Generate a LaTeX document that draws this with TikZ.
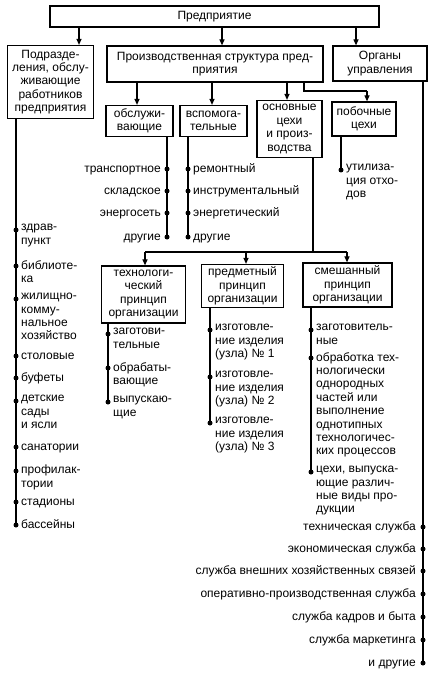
\documentclass[tikz,border=0pt]{standalone}
\usepackage{fontspec}
\setmainfont{Liberation Sans}
\usetikzlibrary{arrows.meta}
\newcommand\lblfont{\fontsize{12}{13.4}\selectfont}
\begin{document}
\begin{tikzpicture}[x=1pt,y=-1pt,
  box/.style={draw, line width=1.2pt, align=center, inner sep=0pt, font=\lblfont},
  ln/.style={line width=1.1pt},
  arr/.style={line width=1.1pt, -{Triangle[length=6pt,width=5pt]}},
  dot/.style={circle, fill, inner sep=0pt, minimum size=5pt},
  labl/.style={inner sep=0pt, align=left, font=\lblfont, anchor=north west, execute at begin node=\strut},
  labr/.style={inner sep=0pt, align=right, font=\lblfont, anchor=north east, execute at begin node=\strut}]
\useasboundingbox[fill=white] (0,0) rectangle (442,676);

% boxes
\node[box, minimum width=329pt, minimum height=21pt] (top) at (214.5,16.5) {Предприятие};
\node[box, minimum width=86pt, minimum height=73pt] (podr) at (50.5,82) {Подразде-\\ления, обслу-\\живающие\\работников\\предприятия};
\node[box, minimum width=216pt, minimum height=36pt] (proizv) at (215,64) {Производственная структура пред-\\приятия};
\node[box, minimum width=94pt, minimum height=35pt] (organy) at (380,63.5) {Органы\\управления};
\node[box, minimum width=67pt, minimum height=31pt] (obsl) at (139.5,121) {обслужи-\\вающие};
\node[box, minimum width=67pt, minimum height=31pt] (vspom) at (213.5,121) {вспомога-\\тельные};
\node[box, minimum width=65pt, minimum height=57pt] (osnov) at (289.5,129) {основные\\цехи\\и произ-\\водства};
\node[box, minimum width=64pt, minimum height=34pt] (poboch) at (364,119) {побочные\\цехи};
\node[box, minimum width=84pt, minimum height=57pt] (tehn) at (143.5,294.5) {технологи-\\ческий\\принцип\\организации};
\node[box, minimum width=82pt, minimum height=43pt] (predm) at (242.5,286) {предметный\\принцип\\организации};
\node[box, minimum width=89pt, minimum height=44pt] (smesh) at (347.5,285) {смешанный\\принцип\\организации};

% arrows from top
\draw[arr] (top.south -| 79,0) -- (podr.north -| 79,0);
\draw[arr] (top.south -| 222,0) -- (proizv.north -| 222,0);
\draw[arr] (top.south -| 356,0) -- (organy.north -| 356,0);
% arrows from proizv
\draw[arr] (proizv.south -| 137,0) -- (obsl.north -| 137,0);
\draw[arr] (proizv.south -| 212,0) -- (vspom.north -| 212,0);
\draw[arr] (proizv.south -| 287,0) -- (osnov.north -| 287,0);
\coordinate (pb1) at (304,91);
\coordinate (pb2) at (367,91);
\draw[ln] (proizv.south -| pb1) -- (pb1) -- (pb2);
\draw[arr] (pb2) -- (poboch.north -| pb2);
% osnov to principles
\coordinate (oj) at (313,252);
\coordinate (ol) at (145,252);
\coordinate (or) at (347,252);
\draw[ln] (osnov.south -| oj) -- (oj);
\draw[ln] (ol) -- (or);
\draw[arr] (ol) -- (tehn.north -| ol);
\draw[arr] (246,252) -- (predm.north -| 246,0);
\draw[arr] (or) -- (smesh.north -| or);

% podr list
\foreach \n/\y in {1/230,2/266,3/299,4/356,5/378,6/401,7/447,8/471,9/502,10/525}
  \node[dot] (p\n) at (16,\y) {};
\draw[ln] (podr.south -| p1) -- (p10.center);
\node[labl] at ([shift={(5,-6)}]p1.center) {здрав-\\пункт};
\node[labl] at ([shift={(5,-6)}]p2.center) {библиоте-\\ка};
\node[labl] at ([shift={(5,-6)}]p3.center) {жилищно-\\комму-\\нальное\\хозяйство};
\node[labl] at ([shift={(5,-6)}]p4.center) {столовые};
\node[labl] at ([shift={(5,-6)}]p5.center) {буфеты};
\node[labl] at ([shift={(5,-6)}]p6.center) {детские\\сады\\и ясли};
\node[labl] at ([shift={(5,-6)}]p7.center) {санатории};
\node[labl] at ([shift={(5,-6)}]p8.center) {профилак-\\тории};
\node[labl] at ([shift={(5,-6)}]p9.center) {стадионы};
\node[labl] at ([shift={(5,-6)}]p10.center) {бассейны};

% obsl list
\foreach \n/\y in {1/169,2/191,3/213,4/237}
  \node[dot] (a\n) at (167,\y) {};
\draw[ln] (obsl.south -| a1) -- (a4.center);
\node[labr] at ([shift={(-6,-6)}]a1.center) {транспортное};
\node[labr] at ([shift={(-6,-6)}]a2.center) {складское};
\node[labr] at ([shift={(-6,-6)}]a3.center) {энергосеть};
\node[labr] at ([shift={(-6,-6)}]a4.center) {другие};

% vspom list
\foreach \n/\y in {1/169,2/191,3/213,4/237}
  \node[dot] (b\n) at (188,\y) {};
\draw[ln] (vspom.south -| b1) -- (b4.center);
\node[labl] at ([shift={(5,-6)}]b1.center) {ремонтный};
\node[labl] at ([shift={(5,-6)}]b2.center) {инструментальный};
\node[labl] at ([shift={(5,-6)}]b3.center) {энергетический};
\node[labl] at ([shift={(5,-6)}]b4.center) {другие};

% poboch list
\node[dot] (c1) at (341,170) {};
\draw[ln] (poboch.south -| c1) -- (c1.center);
\node[labl] at ([shift={(5,-6)}]c1.center) {утилиза-\\ция отхо-\\дов};

% tehn list
\foreach \n/\y in {1/334,2/368,3/402}
  \node[dot] (d\n) at (108,\y) {};
\draw[ln] (tehn.south -| d1) -- (d3.center);
\node[labl] at ([shift={(5,-6)}]d1.center) {заготови-\\тельные};
\node[labl] at ([shift={(5,-6)}]d2.center) {обрабаты-\\вающие};
\node[labl] at ([shift={(5,-6)}]d3.center) {выпускаю-\\щие};

% predm list
\foreach \n/\y in {1/330,2/377,3/423}
  \node[dot] (e\n) at (210,\y) {};
\draw[ln] (predm.south -| e1) -- (e3.center);
\node[labl] at ([shift={(5,-6)}]e1.center) {изготовле-\\ние изделия\\(узла) № 1};
\node[labl] at ([shift={(5,-6)}]e2.center) {изготовле-\\ние изделия\\(узла) № 2};
\node[labl] at ([shift={(5,-6)}]e3.center) {изготовле-\\ние изделия\\(узла) № 3};

% smesh list
\foreach \n/\y in {1/330,2/358,3/472}
  \node[dot] (f\n) at (311,\y) {};
\draw[ln] (smesh.south -| f1) -- (f3.center);
\node[labl] at ([shift={(5,-6)}]f1.center) {заготовитель-\\ные};
\node[labl] at ([shift={(5,-6)}]f2.center) {обработка тех-\\нологически\\однородных\\частей или\\выполнение\\однотипных\\технологичес-\\ких процессов};
\node[labl] at ([shift={(5,-6)}]f3.center) {цехи, выпуска-\\ющие различ-\\ные виды про-\\дукции};

% organy list
\foreach \n/\y in {1/527,2/549,3/571,4/594,5/617,6/640,7/663}
  \node[dot] (g\n) at (423,\y) {};
\draw[ln] (organy.south -| g1) -- (g7.center);
\node[labr] at ([shift={(-7,-6)}]g1.center) {техническая служба};
\node[labr] at ([shift={(-7,-6)}]g2.center) {экономическая служба};
\node[labr] at ([shift={(-7,-6)}]g3.center) {служба внешних хозяйственных связей};
\node[labr] at ([shift={(-7,-6)}]g4.center) {оперативно-производственная служба};
\node[labr] at ([shift={(-7,-6)}]g5.center) {служба кадров и быта};
\node[labr] at ([shift={(-7,-6)}]g6.center) {служба маркетинга};
\node[labr] at ([shift={(-7,-6)}]g7.center) {и другие};
\end{tikzpicture}
\end{document}
